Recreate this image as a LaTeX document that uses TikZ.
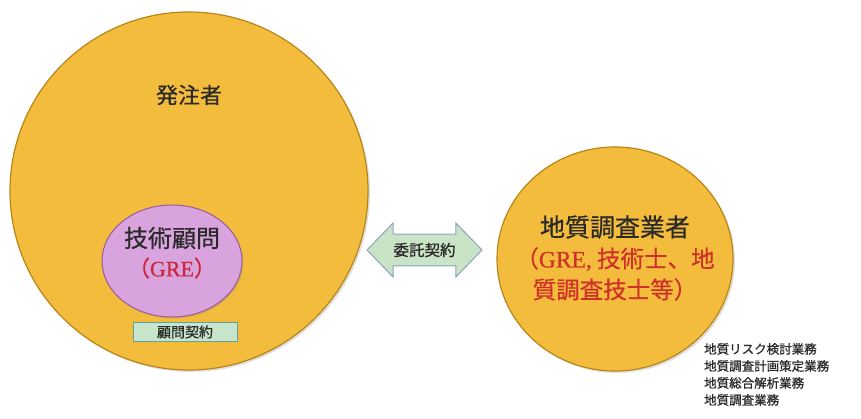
\documentclass[tikz,border=0pt]{standalone}
\usepackage{fontspec}
\newfontfamily\jp[FakeBold=0.6]{Noto Sans CJK JP}
\newfontfamily\jpl[FakeBold=0.9]{Noto Sans CJK JP}
\newfontfamily\rom[FakeBold=0.6]{Liberation Serif}
\usetikzlibrary{shapes.geometric,shapes.arrows,shadows}
\definecolor{orgfill}{HTML}{F3BC3C}
\definecolor{orgline}{HTML}{B98516}
\definecolor{purfill}{HTML}{D9A3DD}
\definecolor{purline}{HTML}{9A5AA0}
\definecolor{boxfill}{HTML}{C6E5CB}
\definecolor{boxline}{HTML}{5FA3A0}
\definecolor{arrfill}{HTML}{C9E3C6}
\definecolor{arrline}{HTML}{8FA3BE}
\definecolor{redtxt}{HTML}{C8283C}
\definecolor{redtxtb}{HTML}{D0302A}
\definecolor{txt}{HTML}{2A2A2A}
\tikzset{
  party/.style={ellipse, fill=orgfill, draw=orgline, line width=1.2pt,
    drop shadow={opacity=0.25, shadow xshift=2pt, shadow yshift=-2pt}, inner sep=0pt},
  consult/.style={ellipse, fill=purfill, draw=purline, line width=1pt,
    drop shadow={opacity=0.25, shadow xshift=1.5pt, shadow yshift=-1.5pt}, inner sep=0pt},
  tag/.style={rectangle, fill=boxfill, draw=boxline, line width=0.8pt, inner sep=0pt,
    font=\jpl\fontsize{14}{16}\selectfont, text=txt},
  deal/.style={double arrow, fill=arrfill, draw=arrline, line width=1pt,
    double arrow tip angle=92, inner xsep=1pt, inner ysep=2.5pt,
    font=\jpl\fontsize{15.5}{17}\selectfont, text=txt},
  label/.style={font=\jp, text=txt, inner sep=0pt, align=center},
}
\begin{document}
\begin{tikzpicture}[x=1pt,y=-1pt]
\useasboundingbox (0,0) rectangle (861,419);
% owner
\node[party, minimum width=358pt, minimum height=358pt] (owner) at (189,191) {};
\node[label, font=\jp\fontsize{22}{24}\selectfont] (ownerlbl) at (189,95) {発注者};
% consultant
\node[consult, minimum width=140pt, minimum height=112pt] (gre) at (172,261) {};
\node[label, font=\jp\fontsize{24}{26}\selectfont] (grelbl) at (172,238) {技術顧問};
\node[label, text=redtxt, font=\fontsize{22}{24}\selectfont] (grered) at (172,268) {\jp（\rom GRE\jp）};
% consult contract box
\node[tag, minimum width=104pt, minimum height=19pt] (advbox) at (185,332) {顧問契約};
% contractor
\node[party, minimum width=236pt, minimum height=224pt] (firm) at (615,259) {};
\node[label, font=\jp\fontsize{25}{27}\selectfont] (firmlbl) at (615,227) {地質調査業者};
\node[label, text=redtxtb, font=\jp\fontsize{23.5}{31}\selectfont] (firmred) at (615,274)
  {（{\rom GRE,} 技術士、地\\質調査技士等）};
% contract arrow
\node[deal, minimum height=115pt, minimum width=54pt] (contract) at (424.5,250) {委託契約};
% list
\node[label, anchor=north west, align=left, font=\jpl\fontsize{12.5}{17}\selectfont] (tasks) at (704,343)
  {地質リスク検討業務\\地質調査計画策定業務\\地質総合解析業務\\地質調査業務};
\end{tikzpicture}
\end{document}
